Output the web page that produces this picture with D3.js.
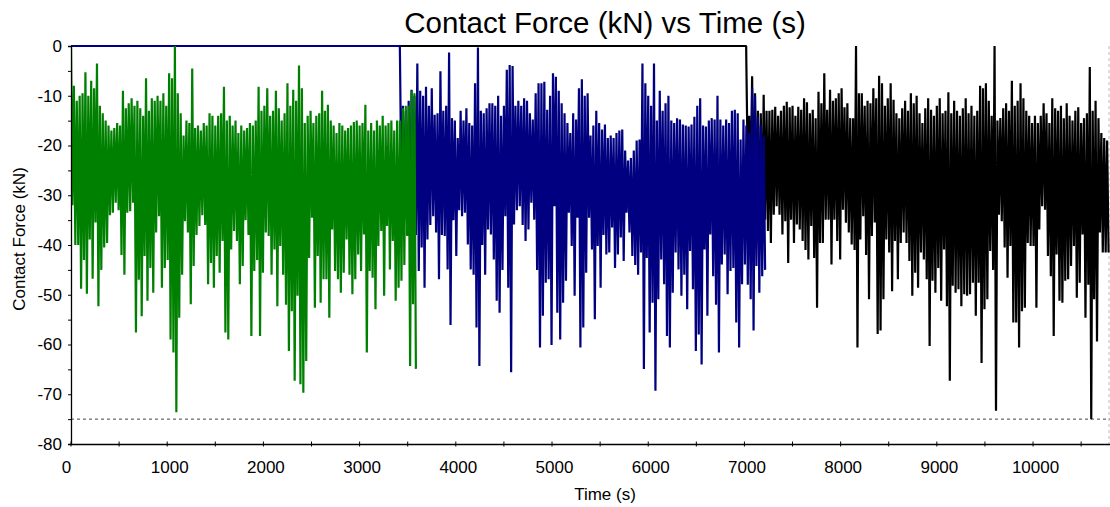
<!DOCTYPE html>
<html>
<head>
<meta charset="utf-8">
<script src="https://cdn.jsdelivr.net/npm/d3@7"></script>
<style>
  html, body { margin: 0; padding: 0; background: #fff; }
  svg { display: block; font-family: "Liberation Sans", Arial, sans-serif; }
</style>
</head>
<body>
<svg id="chart" width="1110" height="507"></svg>
<script>
// ---------------- DATA ----------------
const chartTitle = "Contact Force (kN) vs Time (s)";
const xTitle = "Time (s)";
const yTitle = "Contact Force (kN)";

const xTickLabels = [0, 1000, 2000, 3000, 4000, 5000, 6000, 7000, 8000, 9000, 10000];
const yTickLabels = [0, -10, -20, -30, -40, -50, -60, -70, -80];
const limitLine = -75;

// sampling: each record is a (peak, trough) pair, peak at start + step*i, trough half a step later
const sampleStep = 30;
const greenStart = 0;
const navyStart = 3420;
const blackStart = 7020;

// level held before a series becomes active (time, value)
const navyLeadT = [0, 3418];
const navyLeadV = [0, 0];
const blackLeadT = [0, 7018];
const blackLeadV = [0, 0];

const greenHi = [0,-8,-11,-10,-9.5,-5.3,-10,-7,-8.5,-3.5,-12,-13.5,-15,-16,-17,-16.5,-15.5,-16,-9,-12.5,
  -11.5,-10.5,-12,-11,-12.5,-14,-6.5,-13,-10.5,-11,-10,-11,-9.5,-12,-5.5,-6.5,0,-9.5,-13.5,-18,
  -15,-15.5,-4.5,-16.5,-16,-17,-15.5,-16,-13.5,-14,-16,-14,-13.5,-8.2,-15,-14,-16,-15,-17.5,-16,
  -17,-16.5,-15.5,-16,-15,-8.2,-13,-12,-8.5,-14,-13,-9,-12.5,-15,-13.5,-7.5,-12,-8.8,-11,-3.9,
  -8.5,-15.5,-14,-13,-15.5,-14,-13.5,-9,-13,-11.8,-15,-16,-17.5,-15.5,-16,-17,-16.5,-16,-15.3,-15,
  -16,-15.5,-11.8,-17,-15.5,-17,-15,-16,-14,-16,-15.5,-15,-17,-15,-15,-12.5,-12,-12,-9,-9.5];
const greenLo = [-32,-40,-40,-48.8,-43,-49.8,-38.9,-46.8,-35.5,-52.3,-45,-40.5,-39.6,-34,-33.5,-31.5,-33,-42,-46,-33.5,
  -33.2,-31.5,-57.6,-47,-54.3,-42.2,-51.2,-44.6,-49.6,-37.5,-34.2,-48.6,-44.6,-43,-59,-61.6,-73.6,-54.6,-46,-35.2,
  -37.5,-51.9,-44.2,-38,-36.2,-34,-36,-47.9,-43.6,-48.6,-42.2,-45.6,-39.2,-57.6,-59,-40.9,-37.2,-39.2,-47.9,-44.2,
  -35,-38,-58.3,-45.2,-43,-58.3,-45.6,-37.5,-38.2,-46,-40.9,-52.3,-40.2,-46,-52,-61.3,-53.3,-67.3,-50.2,-68,
  -69.7,-63.3,-42.6,-34.5,-52.6,-42.2,-51.6,-46.9,-46.9,-54.6,-36.9,-45.2,-46.9,-49.6,-45.6,-38.9,-46,-49.9,-46.9,-41.9,
  -45.2,-37.9,-61.6,-45.2,-46.6,-52.9,-40.2,-37.2,-50.2,-36.2,-44.9,-39.2,-51.2,-48.6,-47.2,-44,-38.2,-64.3,-51.9,-64.9];

const navyHi = [-2.8,-12,-13,-11,-8.8,-10,-3.5,-9,-10,-8.2,-12,-8.5,-13.8,-13.5,-5.1,-13,-12,-1.3,-14.5,-15,
  -18.5,-13,-15,-12.5,-15.5,-16,-7.5,-0.3,-13,-13.5,-12.5,-11.5,-11.5,-12,-10,-14,-12,-4.8,-3.8,-4,
  -12,-11,-12,-10.5,-11,-13.5,-14.8,-9.5,-7.5,-7.5,-7.2,-12.8,-10,-5.5,-6.2,-9,-11.5,-13.5,-15.5,-17.5,
  -13.5,-14.8,-8.5,-6.7,-10,-9.5,-18,-16,-13,-15.5,-16.8,-15.8,-18.5,-18,-18.5,-17.5,-17,-16.8,-21,-23,
  -22.5,-21,-19,-18.8,-3.5,-7.5,-10,-12,-3.5,-15,-9,-13,-11.5,-10,-15,-15.5,-14.5,-14.8,-15.8,-16,
  -16.2,-15.8,-14.2,-12,-10.5,-16,-16.2,-15,-14.5,-14.8,-10,-14.8,-16,-14.8,-15.5,-13,-12.8,-13.5,-18.8,-14.8,
  -16,-17.5,-8.5,-10,-14.2,-16,-18];
const navyLo = [-30,-35,-38,-36,-40,-38,-45.2,-40.5,-48.6,-38.9,-36,-34.2,-37.5,-46.9,-38,-38.2,-44.9,-56.1,-35,-42.2,
  -33,-34.2,-33.5,-39.9,-44.9,-46,-56.6,-64.3,-40,-46,-36.9,-37.9,-42.9,-51.2,-53.6,-45,-34.2,-48.6,-65.6,-35.9,
  -33,-32.2,-36,-39.2,-36.9,-31.5,-34.9,-45,-60.6,-54.2,-47.6,-46.9,-60.1,-32.2,-53.6,-59,-51.6,-47.2,-33.5,-40.2,
  -50.2,-34.5,-60.6,-56.6,-45.6,-34.5,-40.9,-54.9,-40.2,-48.6,-38,-41.9,-41.5,-36.5,-44.6,-41.9,-38.5,-43.2,-33.5,-37.5,
  -42.2,-44,-46,-41.5,-64.9,-42.6,-57.6,-51.6,-69.3,-50.9,-42.9,-47.9,-58.3,-60.6,-49.6,-41.5,-44.9,-50.2,-46,-52.9,
  -41.2,-48.9,-61.3,-58,-64,-40.9,-54.2,-37.9,-46.3,-52,-61.6,-43.9,-41.9,-49.9,-45.2,-44.6,-55.6,-60.6,-47.9,-43.9,
  -48,-50.9,-57.2,-44.2,-49.6,-46.3,-45];

const blackHi = [-3.5,-14,-6.1,-9.5,-13,-13.5,-9.8,-13,-13,-12.8,-12.2,-14,-13,-12,-11.2,-12.3,-12,-14,-12.2,-12.8,
  -10.5,-11.3,-13.5,-12.8,-14.5,-9.2,-11.5,-5.5,-12.8,-8.8,-11,-10.5,-9.5,-8.5,-12.3,-11.5,-14.5,-14.5,0,-9.5,
  -9.5,-12,-11,-11.5,-8.5,-10.5,-6,-7.5,-12,-10.5,-7.5,-10.8,-13.5,-14.5,-12.5,-11,-13,-9.5,-11.5,-10,
  -13.5,-15.5,-12.5,-10.5,-12.8,-14,-12,-10.5,-13.5,-13,-9.3,-13.5,-11,-13,-14,-12.5,-10.5,-13.5,-12,-14,
  -13,-8,-8.5,-7.5,-11,-14,0,-15,-14.5,-12.5,-11.5,-13,-7,-12,-11,-7.5,-10.5,-13,-14,-15.5,
  -14,-15.5,-14,-11.5,-13.5,-15.5,-10.5,-12.5,-13,-12,-14.5,-11.5,-14,-15,-13,-12.3,-15.5,-14.5,-13.5,-4.2,
  -13,-11,-14.5,-17.5,-18.5,-19];
const blackLo = [-25,-30,-35,-38,-40,-38,-34.9,-37.2,-39.6,-33.9,-32.2,-33.9,-37.9,-35.2,-43.6,-34.9,-39.6,-35.9,-36.9,-39.2,
  -41,-42.9,-36.2,-42.6,-52.6,-39.6,-39.6,-34.9,-34.9,-43.9,-34.9,-39.2,-42.9,-32.9,-35.5,-37.5,-39.9,-41,-60.6,-38.9,
  -34.2,-42,-50.9,-38.2,-35.5,-57.9,-57.2,-50.9,-38.9,-41.5,-49.3,-39.2,-46.9,-39.6,-37.5,-39.6,-43.2,-50.2,-45.6,-48.6,
  -41.5,-42.9,-46.9,-60.3,-47.2,-49.6,-44.6,-51.2,-40.9,-52.3,-67.3,-48.2,-49.6,-48.9,-52.3,-49.9,-50.2,-49.9,-47.6,-54.2,
  -47.6,-63.7,-52.9,-50.9,-41.2,-45,-73.3,-33.9,-35.2,-40.5,-46.6,-40.2,-55.6,-55.6,-60.6,-53.3,-52.6,-39.6,-40.2,-40.2,
  -52.6,-36.9,-32.2,-32.9,-42.2,-46.3,-58.3,-41.9,-51.2,-51.6,-47.2,-46.9,-44.2,-40.2,-50.6,-47.6,-37.9,-54.6,-48,-75,
  -50.9,-59.4,-37.5,-41.5,-41.5,-41.5];

// ---------------- CHART ----------------
const svg = d3.select("#chart");
const plot = { left: 71, right: 1110, top: 46, bottom: 444 };

const x = d3.scaleLinear().domain([0, 10800]).range([plot.left, plot.right]);
const y = d3.scaleLinear().domain([-80, 0]).range([plot.bottom, plot.top]);

function buildSeries(leadT, leadV, start, hi, lo) {
  const pts = leadT.map((t, i) => [t, leadV[i]]);
  hi.forEach((h, i) => {
    pts.push([start + sampleStep * i, h]);
    pts.push([start + sampleStep * i + sampleStep / 2, lo[i]]);
  });
  return pts;
}

const series = [
  { name: "black", color: "#000000", pts: buildSeries(blackLeadT, blackLeadV, blackStart, blackHi, blackLo) },
  { name: "navy",  color: "#000080", pts: buildSeries(navyLeadT, navyLeadV, navyStart, navyHi, navyLo) },
  { name: "green", color: "#008000", pts: buildSeries([], [], greenStart, greenHi, greenLo) }
];

svg.append("defs").append("clipPath").attr("id", "clip")
  .append("rect")
  .attr("x", plot.left).attr("y", plot.top - 3)
  .attr("width", plot.right - plot.left).attr("height", plot.bottom - plot.top + 3);

// limit line and right border (dashed)
svg.append("line")
  .attr("x1", plot.left).attr("x2", plot.right)
  .attr("y1", y(limitLine)).attr("y2", y(limitLine))
  .attr("stroke", "#444").attr("stroke-width", 1).attr("stroke-dasharray", "3,3");
svg.append("line")
  .attr("x1", plot.right - 1).attr("x2", plot.right - 1)
  .attr("y1", plot.top).attr("y2", plot.bottom)
  .attr("stroke", "#bbb").attr("stroke-width", 1).attr("stroke-dasharray", "3,3");

const line = d3.line().x(d => x(d[0])).y(d => y(d[1]));
const gSeries = svg.append("g").attr("clip-path", "url(#clip)");
series.forEach(s => {
  gSeries.append("path")
    .datum(s.pts)
    .attr("d", line)
    .attr("fill", "none")
    .attr("stroke", s.color)
    .attr("stroke-width", 2.2)
    .attr("stroke-linejoin", "bevel");
});

// Y axis
const yAxis = svg.append("g").attr("transform", `translate(${plot.left},0)`)
  .call(d3.axisLeft(y).tickValues(yTickLabels).tickSize(3).tickPadding(6).tickFormat(d => String(d)));
const yMinor = svg.append("g").attr("transform", `translate(${plot.left},0)`)
  .call(d3.axisLeft(y).tickValues(d3.range(-75, 0, 10)).tickSize(3).tickFormat(""));
yMinor.select(".domain").remove();
yAxis.select(".domain").attr("stroke", "#000").attr("stroke-width", 1.3);
yAxis.selectAll("text").attr("font-size", 17).attr("fill", "#000")
  .attr("font-family", "'Liberation Sans', Arial, sans-serif");

// X axis
const xAxis = svg.append("g").attr("transform", `translate(0,${plot.bottom})`)
  .call(d3.axisBottom(x).tickValues(xTickLabels).tickSize(0).tickPadding(17).tickFormat(d => String(d)));
xAxis.select(".domain").attr("stroke", "#000").attr("stroke-width", 1.3);
xAxis.selectAll("text").attr("font-size", 17).attr("fill", "#000")
  .attr("font-family", "'Liberation Sans', Arial, sans-serif")
  .attr("dx", d => d === 0 ? -5 : 2);
const xTickVals = d3.range(0, 10800, 500);
svg.append("g").selectAll("line").data(xTickVals).join("line")
  .attr("x1", d => x(d)).attr("x2", d => x(d))
  .attr("y1", plot.bottom - 2.5).attr("y2", plot.bottom + 2.5)
  .attr("stroke", "#000").attr("stroke-width", 1);

// Titles
svg.append("text")
  .attr("x", 605).attr("y", 33)
  .attr("text-anchor", "middle")
  .attr("font-size", 29.5).attr("fill", "#000")
  .text(chartTitle);
svg.append("text")
  .attr("x", 605).attr("y", 500)
  .attr("text-anchor", "middle")
  .attr("font-size", 17).attr("fill", "#000")
  .text(xTitle);
svg.append("text")
  .attr("transform", "translate(25,239) rotate(-90)")
  .attr("text-anchor", "middle")
  .attr("font-size", 17).attr("fill", "#000")
  .text(yTitle);
</script>
</body>
</html>
